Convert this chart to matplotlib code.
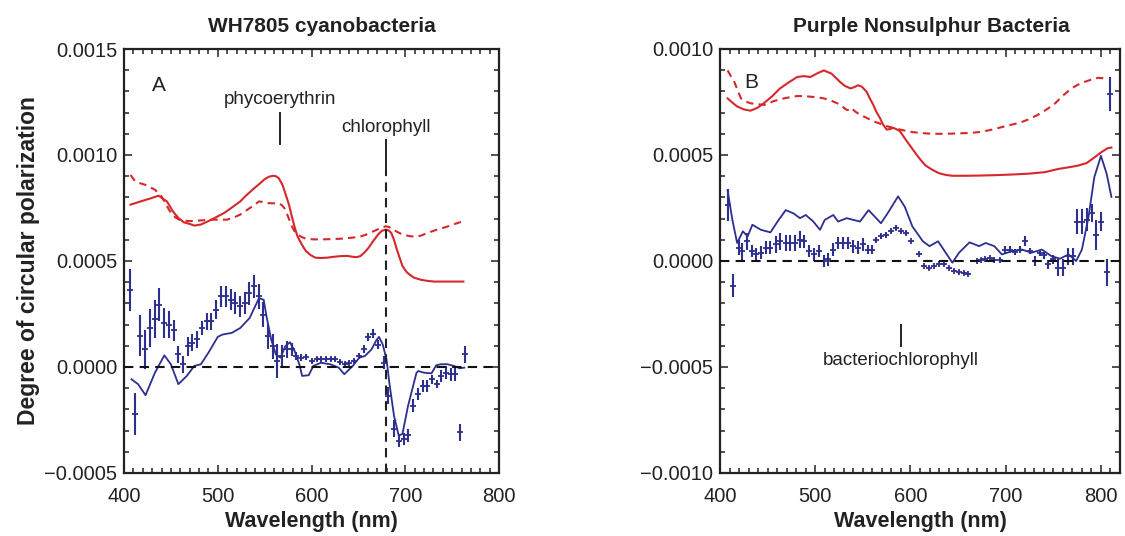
import matplotlib
matplotlib.use("Agg")
import matplotlib.pyplot as plt
from matplotlib.ticker import MultipleLocator, FuncFormatter

plt.rcParams['font.family'] = ['Liberation Sans', 'DejaVu Sans']

RED = '#d6282b'
BLUE = '#2c2f8e'

# ---------------- Panel A: WH7805 cyanobacteria ----------------
a_red_solid_x = [407, 417, 428, 437, 446, 452, 458, 464, 470, 475, 482, 490, 498, 507, 515, 524, 530,
                 537, 544, 550, 555, 559, 562, 565, 569, 572, 576, 579, 582, 585, 590, 594, 599, 604,
                 610, 617, 624, 631, 638, 644, 648, 652, 656, 661, 666, 671, 675, 679, 682, 685, 688,
                 691, 694, 697, 701, 704, 709, 717, 724, 731, 745, 762]
a_red_solid_y = [0.000766, 0.000780, 0.000795, 0.000808, 0.000780, 0.000735, 0.000703, 0.000682, 0.000675,
                 0.000667, 0.000672, 0.000688, 0.000706, 0.000727, 0.000752, 0.000781, 0.000808,
                 0.000836, 0.000862, 0.000886, 0.000898, 0.000902, 0.000900, 0.000891, 0.000860, 0.000820,
                 0.000765, 0.000711, 0.000660, 0.000617, 0.000575, 0.000547, 0.000528, 0.000516,
                 0.000514, 0.000516, 0.000520, 0.000523, 0.000524, 0.000520, 0.000518, 0.000523,
                 0.000538, 0.000563, 0.000595, 0.000625, 0.000642, 0.000648, 0.000645, 0.000633,
                 0.000600, 0.000555, 0.000515, 0.000477, 0.000450, 0.000438, 0.000422, 0.000411,
                 0.000406, 0.000403, 0.000403, 0.000403]

a_red_dash_x = [407, 412, 417, 423, 428, 433, 437, 440, 445, 450, 455, 459, 465, 470, 477, 484, 490, 497,
                503, 510, 517, 524, 530, 537, 544, 549, 554, 559, 564, 568, 571, 575, 579, 582, 585, 590,
                594, 602, 611, 620, 631, 641, 651, 658, 664, 671, 679, 683, 687, 692, 697, 704, 711, 717,
                724, 734, 744, 753, 762]
a_red_dash_y = [0.000906, 0.000875, 0.000867, 0.000859, 0.000848, 0.000836, 0.000820, 0.000805, 0.000765,
                0.000727, 0.000705, 0.000695, 0.000690, 0.000688, 0.000690, 0.000692, 0.000694, 0.000695,
                0.000695, 0.000695, 0.000705, 0.000719, 0.000737, 0.000758, 0.000781, 0.000778, 0.000773,
                0.000772, 0.000773, 0.000765, 0.000750, 0.000710, 0.000664, 0.000640, 0.000625, 0.000612,
                0.000605, 0.000602, 0.000602, 0.000603, 0.000605, 0.000609, 0.000614, 0.000624, 0.000636,
                0.000650, 0.000664, 0.000660, 0.000648, 0.000636, 0.000625, 0.000618, 0.000614, 0.000620,
                0.000633, 0.000648, 0.000661, 0.000675, 0.000688]

a_blue_line_x = [408, 415, 423, 433, 443, 450, 458, 467, 475, 482, 490, 500, 505, 515, 524, 534, 544,
                 549, 552, 557, 562, 567, 572, 577, 582, 587, 590, 597, 602, 610, 620, 629, 635, 644,
                 651, 657, 664, 669, 672, 676, 680, 683, 688, 693, 697, 703, 712, 714, 720, 728, 733,
                 738, 745, 752, 758, 763]
a_blue_line_y = [-0.000058, -0.000081, -0.000133, -0.000027, 0.000055, 0.000013, -0.000081, -0.000042,
                 0.000005, 0.000013, 0.000067, 0.000142, 0.000153, 0.000161, 0.000184, 0.000231, 0.000325,
                 0.000317, 0.000239, 0.000130, 0.000059, 0.000044, 0.000098, 0.000117, 0.000075, 0.000013,
                 -0.000042, -0.000039, 0.000005, 0.000020, 0.000013, -0.000003, -0.000034, 0.000005,
                 0.000044, 0.000052, 0.000083, 0.000125, 0.000142, 0.000106, 0.000036, -0.000073,
                 -0.000230, -0.000323, -0.000316, -0.000183, -0.000027, -0.000019, -0.000027, -0.000030,
                 0.000008, 0.000013, 0.000013, 0.000005, -0.000006, -0.000003]

a_pts_x = [406.7, 411.7, 417.4, 422.7, 427.7, 432.7, 437.8, 442.8, 447.8, 452.9, 457.9, 463.0, 468.0,
           473.0, 478.0, 483.0, 488.0, 493.0, 498.6, 503.6, 508.6, 513.6, 518.6, 523.6, 528.6, 533.6,
           538.6, 543.7, 548.7, 553.7, 558.7, 563.7, 568.7, 573.7, 578.8, 583.8, 588.8, 593.8, 600.5,
           605.5, 610.5, 615.5, 620.5, 625.5, 630.5, 635.5, 640.5, 645.6, 650.6, 655.6, 660.6, 665.6,
           670.6, 677.0, 681.7, 688.4, 693.4, 698.4, 703.4, 708.4, 713.4, 718.4, 723.4, 728.4, 733.4,
           738.5, 743.5, 748.5, 753.5, 758.5, 763.5]
a_pts_y = [0.000364, -0.000222, 0.000148, 0.000083, 0.000184, 0.000227, 0.000294, 0.000208, 0.000200,
           0.000173, 0.000059, 0.000013, 0.000098, 0.000114, 0.000130, 0.000184, 0.000216, 0.000216,
           0.000270, 0.000333, 0.000333, 0.000317, 0.000302, 0.000286, 0.000302, 0.000348, 0.000380,
           0.000333, 0.000247, 0.000145, 0.000098, 0.000028, 0.000052, 0.000083, 0.000083, 0.000052,
           0.000044, 0.000048, 0.000028, 0.000039, 0.000039, 0.000036, 0.000039, 0.000039, 0.000023,
           0.000013, 0.000020, 0.000028, 0.000052, 0.000086, 0.000142, 0.000158, 0.000106, 0.000020,
           -0.000136, -0.000292, -0.000347, -0.000339, -0.000323, -0.000183, -0.000128, -0.000089,
           -0.000089, -0.000058, -0.000081, -0.000042, -0.000027, -0.000034, -0.000034, -0.000308,
           0.000059]
a_pts_err = [0.000100, 0.000100, 0.000095, 0.000093, 0.000090, 0.000090, 0.000078, 0.000070, 0.000063,
             0.000050, 0.000040, 0.000040, 0.000045, 0.000040, 0.000040, 0.000035, 0.000040, 0.000040,
             0.000045, 0.000050, 0.000050, 0.000050, 0.000050, 0.000050, 0.000050, 0.000055, 0.000055,
             0.000060, 0.000060, 0.000060, 0.000060, 0.000080, 0.000050, 0.000040, 0.000030, 0.000020,
             0.000015, 0.000015, 0.000010, 0.000010, 0.000010, 0.000010, 0.000010, 0.000010, 0.000010,
             0.000010, 0.000010, 0.000010, 0.000015, 0.000020, 0.000020, 0.000020, 0.000020, 0.000030,
             0.000040, 0.000040, 0.000030, 0.000030, 0.000030, 0.000030, 0.000030, 0.000030, 0.000030,
             0.000020, 0.000020, 0.000030, 0.000030, 0.000030, 0.000030, 0.000040, 0.000040]

# ---------------- Panel B: Purple Nonsulphur Bacteria ----------------
b_red_solid_x = [408, 413, 418, 425, 432, 439, 446, 455, 463, 472, 481, 488, 495, 502, 509, 517, 526,
                 531, 537, 541, 545, 549, 554, 557, 561, 564, 568, 571, 575, 578, 582, 585, 589, 592,
                 596, 601, 606, 611, 616, 623, 630, 637, 644, 658, 672, 690, 707, 724, 741, 755, 766,
                 776, 785, 793, 800, 807, 811]
b_red_solid_y = [0.000767, 0.000747, 0.000729, 0.000715, 0.000709, 0.000722, 0.000744, 0.000778, 0.000814,
                 0.000842, 0.000868, 0.000872, 0.000868, 0.000885, 0.000899, 0.000884, 0.000845, 0.000826,
                 0.000814, 0.000820, 0.000829, 0.000822, 0.000798, 0.000770, 0.000736, 0.000705, 0.000674,
                 0.000645, 0.000620, 0.000622, 0.000628, 0.000622, 0.000612, 0.000592, 0.000566, 0.000535,
                 0.000504, 0.000475, 0.000450, 0.000430, 0.000414, 0.000406, 0.000402, 0.000402, 0.000403,
                 0.000405, 0.000408, 0.000412, 0.000419, 0.000434, 0.000442, 0.000450, 0.000462, 0.000488,
                 0.000512, 0.000532, 0.000535]

b_red_dash_x = [408, 411, 415, 419, 422, 427, 432, 439, 446, 451, 455, 461, 467, 474, 481, 488, 495,
                502, 509, 516, 523, 528, 533, 536, 538, 542, 547, 554, 561, 568, 575, 582, 589, 596,
                602, 613, 623, 637, 651, 662, 672, 683, 693, 703, 714, 724, 734, 743, 752, 760, 769,
                776, 783, 790, 797, 802, 806]
b_red_dash_y = [0.000899, 0.000875, 0.000845, 0.000800, 0.000767, 0.000752, 0.000744, 0.000740, 0.000736,
                0.000742, 0.000752, 0.000760, 0.000767, 0.000773, 0.000778, 0.000778, 0.000775, 0.000772,
                0.000767, 0.000758, 0.000744, 0.000730, 0.000713, 0.000712, 0.000721, 0.000705, 0.000690,
                0.000675, 0.000659, 0.000648, 0.000636, 0.000628, 0.000620, 0.000613, 0.000608, 0.000603,
                0.000600, 0.000600, 0.000602, 0.000604, 0.000608, 0.000617, 0.000628, 0.000640, 0.000651,
                0.000668, 0.000690, 0.000715, 0.000744, 0.000780, 0.000814, 0.000832, 0.000845, 0.000856,
                0.000864, 0.000862, 0.000853]

b_blue_line_x = [408, 413, 418, 424, 429, 434, 443, 453, 461, 469, 477, 484, 490, 498, 505, 510, 519,
                 524, 533, 547, 556, 564, 569, 576, 587, 594, 602, 613, 620, 629, 637, 644, 651, 662,
                 672, 679, 688, 696, 707, 717, 727, 738, 748, 757, 766, 774, 780, 787, 793, 800, 806,
                 811]
b_blue_line_y = [0.000333, 0.000194, 0.000085, 0.000140, 0.000116, 0.000171, 0.000147, 0.000135,
                 0.000190, 0.000240, 0.000225, 0.000202, 0.000217, 0.000186, 0.000147, 0.000194,
                 0.000217, 0.000186, 0.000202, 0.000186, 0.000240, 0.000202, 0.000178, 0.000225,
                 0.000305, 0.000256, 0.000163, 0.000093, 0.000070, 0.000093, 0.000039, -0.000008,
                 0.000039, 0.000088, 0.000070, 0.000085, 0.000070, 0.000031, 0.000047, 0.000054,
                 0.000039, 0.000054, 0.000023, 0.000011, 0.000031, 0.000000, 0.000054, 0.000209,
                 0.000395, 0.000496, 0.000411, 0.000302]

b_pts_x = [408.7, 413.2, 420.1, 423.6, 428.8, 434.0, 438.0, 442.7, 447.9, 453.0, 458.3, 463.5, 468.8,
           474.0, 479.0, 484.4, 488.5, 493.8, 498.3, 503.5, 508.7, 513.9, 519.1, 524.3, 529.5, 534.7,
           539.9, 545.1, 550.3, 555.6, 560.0, 564.2, 569.4, 574.7, 579.9, 585.1, 590.3, 594.8, 600.7,
           609.4, 614.6, 619.8, 625.0, 630.2, 635.4, 640.6, 645.8, 651.0, 656.2, 660.4, 669.8, 674.3,
           678.5, 683.7, 687.5, 694.4, 699.6, 704.9, 710.0, 715.3, 720.5, 725.7, 730.9, 736.0, 740.3,
           744.8, 750.0, 755.2, 760.4, 765.6, 770.8, 775.0, 780.2, 785.4, 790.6, 795.1, 800.3, 806.5,
           809.5]
b_pts_y = [0.000264, -0.000116, 0.000062, 0.000047, 0.000093, 0.000047, 0.000031, 0.000039, 0.000062,
           0.000062, 0.000078, 0.000093, 0.000085, 0.000085, 0.000085, 0.000101, 0.000093, 0.000047,
           0.000031, 0.000047, 0.000000, 0.000008, 0.000054, 0.000085, 0.000085, 0.000085, 0.000070,
           0.000062, 0.000078, 0.000054, 0.000054, 0.000101, 0.000116, 0.000124, 0.000140, 0.000155,
           0.000140, 0.000132, 0.000093, 0.000031, -0.000023, -0.000031, -0.000023, -0.000016,
           -0.000016, -0.000031, -0.000047, -0.000054, -0.000058, -0.000062, 0.000000, 0.000005,
           0.000008, 0.000016, 0.000003, 0.000005, 0.000054, 0.000054, 0.000042, 0.000054, 0.000093,
           0.000047, 0.000000, 0.000039, 0.000026, -0.000016, 0.000008, -0.000031, -0.000031, 0.000023,
           0.000023, 0.000186, 0.000186, 0.000194, 0.000225, 0.000124, 0.000186, -0.000054, 0.000789]
b_pts_err = [0.000074, 0.000054, 0.000035, 0.000040, 0.000040, 0.000030, 0.000030, 0.000030, 0.000030,
             0.000030, 0.000040, 0.000040, 0.000040, 0.000040, 0.000040, 0.000040, 0.000030, 0.000030,
             0.000030, 0.000030, 0.000030, 0.000030, 0.000030, 0.000030, 0.000030, 0.000030, 0.000030,
             0.000030, 0.000030, 0.000020, 0.000020, 0.000010, 0.000010, 0.000010, 0.000010, 0.000010,
             0.000008, 0.000008, 0.000005, 0.000005, 0.000005, 0.000005, 0.000005, 0.000005, 0.000005,
             0.000005, 0.000005, 0.000005, 0.000005, 0.000005, 0.000005, 0.000005, 0.000005, 0.000005,
             0.000010, 0.000010, 0.000015, 0.000015, 0.000015, 0.000015, 0.000023, 0.000015, 0.000023,
             0.000015, 0.000015, 0.000023, 0.000020, 0.000040, 0.000040, 0.000040, 0.000040, 0.000058,
             0.000058, 0.000054, 0.000043, 0.000070, 0.000043, 0.000065, 0.000080]

titles = ["WH7805 cyanobacteria", "Purple Nonsulphur Bacteria"]
xlabel = "Wavelength (nm)"
ylabel = "Degree of circular polarization"
a_yticks = [-0.0005, 0.0, 0.0005, 0.0010, 0.0015]
b_yticks = [-0.0010, -0.0005, 0.0, 0.0005, 0.0010]
xticks = [400, 500, 600, 700, 800]

INK = '#222222'


def yfmt(v, pos):
    if abs(v) < 1e-12:
        return "0.0000"
    return f"{v:.4f}".replace("-", "\u2212")


fig = plt.figure(figsize=(11.25, 5.36), dpi=100)
axA = fig.add_axes([124 / 1125, 63 / 536, 375 / 1125, 424 / 536])
axB = fig.add_axes([720 / 1125, 63 / 536, 400 / 1125, 424 / 536])


def style(ax, ylim, yticks, xlim):
    ax.set_xlim(*xlim)
    ax.set_ylim(*ylim)
    ax.set_xticks(xticks)
    ax.set_yticks(yticks)
    ax.xaxis.set_minor_locator(MultipleLocator(10))
    ax.yaxis.set_minor_locator(MultipleLocator(0.0001))
    ax.yaxis.set_major_formatter(FuncFormatter(yfmt))
    ax.tick_params(which='both', direction='in', top=True, right=True, width=1.1, colors=INK)
    ax.tick_params(which='major', length=6)
    ax.tick_params(which='minor', length=3.5)
    ax.tick_params(axis='x', which='major', pad=10, labelsize=14.5)
    ax.tick_params(axis='y', which='major', pad=5, labelsize=14.5)
    for s in ax.spines.values():
        s.set_linewidth(1.6)
        s.set_color(INK)
    ax.set_xlabel(xlabel, fontsize=15.5, fontweight='bold', labelpad=4, color=INK)
    ax.axhline(0, color='#111111', lw=1.5, ls=(0, (4.5, 3)), zorder=3)


# Panel A
style(axA, (-0.0005, 0.0015), a_yticks, (400, 800))
axA.plot(a_red_solid_x, a_red_solid_y, color=RED, lw=1.5)
axA.plot(a_red_dash_x, a_red_dash_y, color=RED, lw=1.5, ls=(0, (3.5, 2.5)))
axA.plot(a_blue_line_x, a_blue_line_y, color=BLUE, lw=1.3)
axA.errorbar(a_pts_x, a_pts_y, yerr=a_pts_err, fmt='+', ms=4, mew=1.3, elinewidth=1.5,
             capsize=0, color=BLUE)
axA.plot([566, 566], [0.00105, 0.00120], color=INK, lw=1.4)
axA.plot([679, 679], [0.00093, 0.00107], color=INK, lw=1.4)
axA.plot([679, 679], [-0.0005, 0.00093], color=INK, lw=1.5, ls=(0, (4.5, 3)))
axA.text(0.075, 0.915, "A", transform=axA.transAxes, fontsize=15, ha='left', va='center', color=INK)
axA.text(566, 0.00126, "phycoerythrin", fontsize=13.5, ha='center', va='center', color=INK)
axA.text(679, 0.00113, "chlorophyll", fontsize=13.5, ha='center', va='center', color=INK)
axA.set_ylabel(ylabel, fontsize=16.5, fontweight='bold', labelpad=3, color=INK)

# Panel B
style(axB, (-0.0010, 0.0010), b_yticks, (400, 820))
axB.plot(b_red_solid_x, b_red_solid_y, color=RED, lw=1.5)
axB.plot(b_red_dash_x, b_red_dash_y, color=RED, lw=1.5, ls=(0, (3.5, 2.5)))
axB.plot(b_blue_line_x, b_blue_line_y, color=BLUE, lw=1.3)
axB.errorbar(b_pts_x, b_pts_y, yerr=b_pts_err, fmt='+', ms=4, mew=1.3, elinewidth=1.5,
             capsize=0, color=BLUE)
axB.plot([590, 590], [-0.00040, -0.00030], color=INK, lw=1.4)
axB.text(590, -0.00047, "bacteriochlorophyll", fontsize=13.5, ha='center', va='center', color=INK)
axB.text(0.06, 0.92, "B", transform=axB.transAxes, fontsize=15, ha='left', va='center', color=INK)

fig.text(322 / 1125, 1 - 27 / 536, titles[0], fontsize=15, fontweight='bold', ha='center', va='center',
         color=INK)
fig.text(931 / 1125, 1 - 27 / 536, titles[1], fontsize=15, fontweight='bold', ha='center', va='center',
         color=INK)

fig.savefig("out.png", dpi=100)
